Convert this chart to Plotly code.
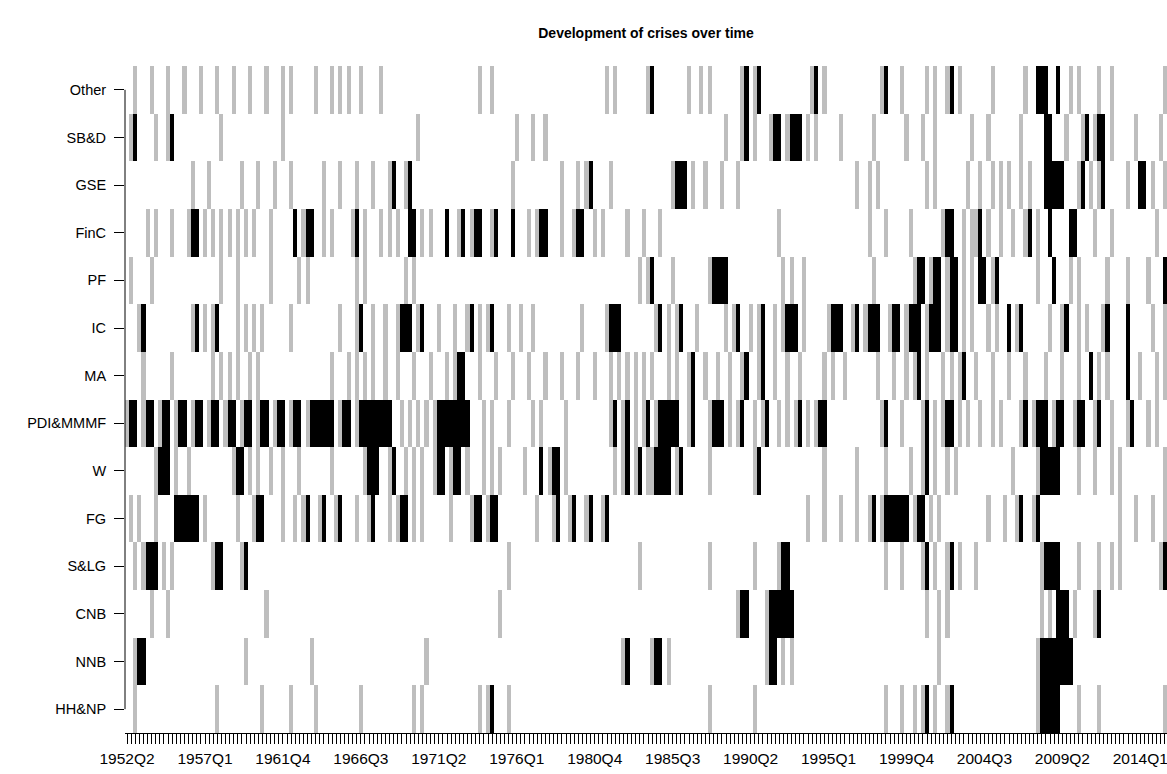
import plotly.graph_objects as go

# Quarter index 0 = 1952Q2 ... 253 = 2015Q3 ; 0 = no crisis, 1 = grey, 2 = black
N_QUARTERS = 254
FIRST_YEAR, FIRST_Q = 1952, 2
TICK_LABELS = ["1952Q2", "1957Q1", "1961Q4", "1966Q3", "1971Q2", "1976Q1", "1980Q4",
               "1985Q3", "1990Q2", "1995Q1", "1999Q4", "2004Q3", "2009Q2", "2014Q1"]

SECTORS = ["Other", "SB&D", "GSE", "FinC", "PF", "IC", "MA", "PDI&MMMF",
           "W", "FG", "S&LG", "CNB", "NNB", "HH&NP"]

OTHER_grey = [2, 6, 10, 14, 18, 22, 26, 30, 34, 38, 40, 46, 50, 52, 54, 57, 62, 86, 89, 117, 119, 127,
              137, 140, 142, 150, 153, 167, 170, 184, 189, 195, 197, 200, 203, 211, 219, 230, 232,
              237, 240, 253]
OTHER_black = [128, 151, 154, 168, 185, 201, 222, 223, 224, 227]

SBD_grey = [1, 7, 10, 23, 38, 71, 95, 99, 102, 146, 150, 153, 157, 161, 166, 168, 174, 182, 190,
            194, 197, 206, 210, 218, 229, 233, 236, 240, 246, 252]
SBD_black = [2, 11, 151, 158, 159, 162, 163, 164, 224, 225, 234, 237, 238]

GSE_grey = [16, 20, 28, 32, 36, 40, 48, 52, 56, 60, 64, 68, 94, 106, 110, 112, 118, 133, 138, 141,
            145, 149, 178, 181, 183, 195, 197, 205, 208, 211, 213, 215, 218, 220, 232, 235, 237,
            244, 250, 253]
GSE_black = [65, 69, 113, 134, 135, 136, 224, 225, 226, 227, 228, 233, 238, 247, 248]

FINC_grey = [5, 7, 11, 15, 19, 21, 23, 25, 27, 29, 31, 35, 43, 48, 50, 55, 58, 62, 64, 66, 72, 74,
             81, 84, 89, 98, 100, 106, 109, 114, 116, 122, 126, 130, 159, 181, 185, 191, 199, 204,
             206, 207, 210, 213, 216, 219, 222, 236, 240, 251]
FINC_black = [16, 17, 41, 44, 45, 56, 69, 70, 78, 82, 85, 86, 90, 94, 101, 102, 110, 111, 200, 201,
              208, 220, 225, 230, 231]

PF_grey = [1, 6, 23, 27, 35, 42, 44, 56, 58, 68, 70, 125, 127, 133, 142, 160, 162, 165, 182, 192,
           196, 200, 204, 206, 211, 222, 230, 232, 239, 244, 249]
PF_black = [128, 143, 144, 145, 146, 193, 194, 197, 198, 201, 202, 208, 209, 212, 226, 253]

IC_grey = [3, 16, 19, 21, 27, 29, 31, 33, 40, 52, 56, 60, 63, 66, 71, 76, 80, 83, 86, 88, 93, 96,
           99, 111, 117, 129, 132, 134, 139, 146, 148, 152, 154, 158, 160, 165, 171, 177, 180, 186,
           190, 195, 200, 204, 206, 210, 212, 217, 225, 228, 232, 234, 238, 250, 253]
IC_black = [4, 17, 22, 57, 67, 68, 69, 72, 84, 89, 118, 119, 120, 130, 135, 149, 155, 161, 162, 163,
            172, 173, 174, 178, 181, 182, 183, 187, 188, 191, 192, 193, 196, 197, 198, 201, 202,
            215, 218, 229, 239, 244]

MA_grey = [4, 11, 21, 23, 25, 27, 30, 32, 50, 54, 56, 58, 60, 63, 66, 70, 74, 78, 80, 86, 90, 94,
           98, 102, 106, 110, 114, 118, 120, 122, 124, 126, 128, 132, 134, 137, 141, 144, 147, 150,
           154, 158, 161, 164, 170, 172, 175, 183, 187, 190, 192, 195, 199, 201, 203, 207, 211,
           215, 219, 224, 228, 232, 237, 239, 247, 251, 253]
MA_black = [81, 82, 138, 151, 155, 193, 204, 235, 244]

PDI_grey = [0, 4, 8, 12, 16, 20, 24, 28, 32, 36, 40, 44, 52, 56, 67, 69, 71, 73, 75, 87, 89, 93, 99,
            101, 107, 118, 121, 124, 126, 129, 137, 142, 147, 149, 153, 155, 159, 161, 163, 166,
            168, 184, 189, 194, 197, 199, 203, 205, 208, 211, 213, 218, 221, 226, 231, 236, 240,
            244, 249, 251]
PDI_black = [1, 2, 5, 6, 9, 10, 13, 14, 17, 18, 21, 22, 25, 26, 29, 30, 33, 34, 37, 38, 41, 42, 45,
             46, 47, 48, 49, 50, 53, 54, 57, 58, 59, 60, 61, 62, 63, 64, 76, 77, 78, 79, 80, 81, 82,
             83, 119, 122, 127, 130, 131, 132, 133, 134, 138, 143, 144, 145, 150, 156, 164, 169,
             170, 185, 195, 200, 201, 219, 222, 223, 224, 227, 228, 232, 233, 237, 245]

W_grey = [7, 12, 15, 26, 30, 32, 35, 38, 42, 50, 58, 64, 68, 70, 72, 75, 79, 83, 87, 89, 91, 97,
          103, 107, 119, 121, 124, 127, 128, 134, 142, 153, 170, 178, 185, 191, 194, 197, 200, 202,
          216, 222, 232, 236, 240, 242, 253]
W_black = [8, 9, 10, 27, 28, 59, 60, 61, 65, 76, 77, 80, 81, 101, 104, 105, 122, 125, 129, 130, 131,
           132, 135, 154, 195, 223, 224, 225, 226, 227]

FG_grey = [1, 3, 7, 19, 27, 31, 38, 41, 43, 47, 51, 56, 59, 64, 66, 70, 72, 79, 84, 88, 100, 104,
           108, 112, 116, 166, 170, 174, 178, 181, 184, 192, 196, 198, 210, 214, 217, 221, 242,
           246, 250, 253]
FG_black = [12, 13, 14, 15, 16, 17, 32, 33, 44, 48, 52, 60, 67, 68, 85, 86, 89, 90, 105, 109, 113,
            117, 182, 185, 186, 187, 188, 189, 190, 193, 194, 218, 222]

SLG_grey = [2, 4, 9, 11, 21, 28, 93, 125, 142, 153, 159, 185, 189, 194, 197, 200, 203, 207, 223,
            232, 237, 240, 242, 252]
SLG_black = [5, 6, 7, 22, 23, 29, 160, 161, 195, 201, 224, 225, 226, 227, 253]

CNB_grey = [6, 10, 34, 91, 149, 156, 195, 198, 200, 223, 225, 231, 236]
CNB_black = [150, 151, 157, 158, 159, 160, 161, 162, 227, 228, 229, 237]

NNB_grey = [2, 29, 45, 73, 121, 128, 132, 156, 160, 162, 198, 222]
NNB_black = [3, 4, 122, 129, 130, 157, 158, 223, 224, 225, 226, 227, 228, 229, 230]

HHNP_grey = [2, 22, 33, 40, 46, 57, 70, 72, 86, 88, 93, 142, 153, 185, 189, 192, 194, 197, 200,
             222, 232, 237, 253]
HHNP_black = [89, 195, 201, 223, 224, 225, 226, 227]

ROWS = [(OTHER_grey, OTHER_black), (SBD_grey, SBD_black), (GSE_grey, GSE_black),
        (FINC_grey, FINC_black), (PF_grey, PF_black), (IC_grey, IC_black), (MA_grey, MA_black),
        (PDI_grey, PDI_black), (W_grey, W_black), (FG_grey, FG_black), (SLG_grey, SLG_black),
        (CNB_grey, CNB_black), (NNB_grey, NNB_black), (HHNP_grey, HHNP_black)]

# quarter names
quarters = []
y, q = FIRST_YEAR, FIRST_Q
for _ in range(N_QUARTERS):
    quarters.append(f"{y}Q{q}")
    q += 1
    if q > 4:
        q, y = 1, y + 1

z = []
for grey, black in ROWS:
    row = [0] * N_QUARTERS
    for i in grey:
        row[i] = 1
    for i in black:
        row[i] = 2
    z.append(row)

xs = list(range(N_QUARTERS))
ticktext = [qq if qq in TICK_LABELS else "" for qq in quarters]

GREY = "#BEBEBE"
colorscale = [[0, "white"], [0.3333, "white"], [0.3334, GREY], [0.6666, GREY],
              [0.6667, "black"], [1, "black"]]

fig = go.Figure(go.Heatmap(
    z=z, x=xs, y=SECTORS, zmin=0, zmax=2, colorscale=colorscale, showscale=False,
    customdata=[quarters] * len(SECTORS),
    hovertemplate="%{y} %{customdata}: %{z}<extra></extra>",
))

FONT = "Liberation Sans, Arial, Helvetica, sans-serif"
fig.update_layout(
    width=1167, height=774,
    margin=dict(l=125, r=0, t=66, b=41, autoexpand=False),
    paper_bgcolor="white", plot_bgcolor="white",
    font=dict(family=FONT, size=14, color="black"),
    title=dict(text="<b>Development of crises over time</b>", x=0.5, xref="paper",
               xanchor="center", y=1 - 33 / 774, yref="container", yanchor="middle",
               font=dict(family=FONT, size=14, color="black")),
    xaxis=dict(range=[-0.5, N_QUARTERS - 0.5], tickmode="array", tickvals=xs, ticktext=ticktext,
               tickangle=0, ticks="outside", ticklen=10, tickwidth=1, tickcolor="black",
               showline=True, linecolor="black", linewidth=1, showgrid=False, zeroline=False,
               automargin=False, tickfont=dict(size=15.5), ticklabelstandoff=1,
               ticklabeloverflow="allow"),
    yaxis=dict(categoryorder="array", categoryarray=SECTORS, autorange="reversed",
               ticks="outside", ticklen=10, tickwidth=1, tickcolor="black", showline=False,
               showgrid=False, zeroline=False, automargin=False, tickfont=dict(size=14.5),
               ticklabelstandoff=5),
    shapes=[dict(type="line", xref="paper", yref="y", x0=0, x1=0, y0=0, y1=len(SECTORS) - 1,
                 line=dict(color="black", width=1))],
)

fig.write_html("out.html")
